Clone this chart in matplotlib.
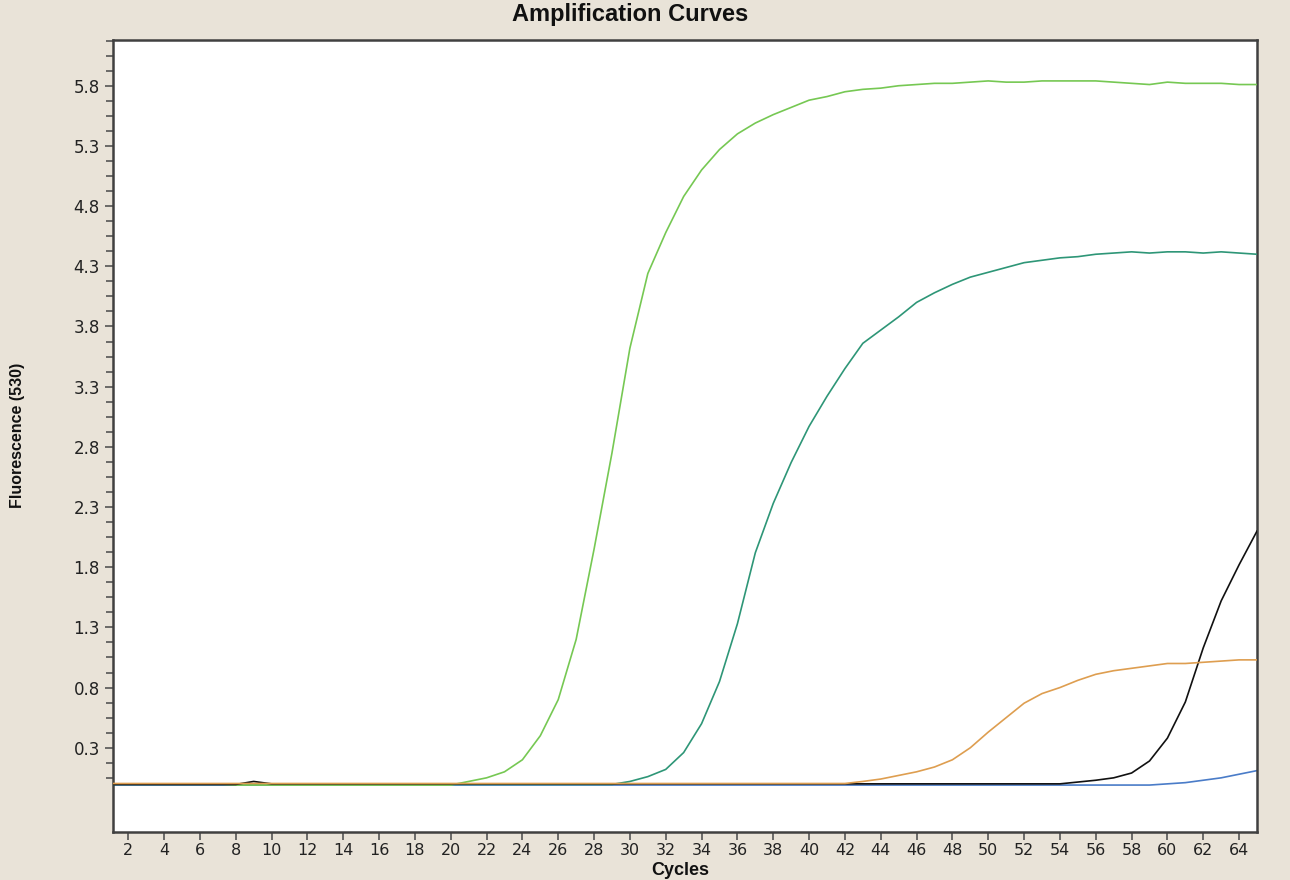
import matplotlib
matplotlib.use("Agg")
import matplotlib.pyplot as plt
from matplotlib.ticker import FixedLocator, FormatStrFormatter
import numpy as np

cycles = list(range(1, 66))

green = [0.0]*7 + [-0.01]*13 + [
    0.02, 0.05, 0.10, 0.20, 0.40, 0.70, 1.20, 1.95, 2.75, 3.62,
    4.24, 4.58, 4.88, 5.10, 5.27, 5.40, 5.49, 5.56, 5.62, 5.68,
    5.71, 5.75, 5.77, 5.78, 5.80, 5.81, 5.82, 5.82, 5.83, 5.84,
    5.83, 5.83, 5.84, 5.84, 5.84, 5.84, 5.83, 5.82, 5.81, 5.83,
    5.82, 5.82, 5.82, 5.81, 5.81]

teal = [-0.005]*29 + [
    0.02, 0.06, 0.12, 0.26, 0.50, 0.85, 1.33, 1.92, 2.33, 2.67,
    2.97, 3.22, 3.45, 3.66, 3.77, 3.88, 4.00, 4.08, 4.15, 4.21,
    4.25, 4.29, 4.33, 4.35, 4.37, 4.38, 4.40, 4.41, 4.42, 4.41,
    4.42, 4.42, 4.41, 4.42, 4.41, 4.40]

orange = [0.003]*42 + [
    0.02, 0.04, 0.07, 0.10, 0.14, 0.20, 0.30, 0.43, 0.55, 0.67,
    0.75, 0.80, 0.86, 0.91, 0.94, 0.96, 0.98, 1.00, 1.00, 1.01,
    1.02, 1.03, 1.03]

black = [-0.005]*8 + [0.02] + [0.0]*45 + [
    0.015, 0.03, 0.05, 0.09, 0.19, 0.38, 0.68, 1.13, 1.52, 1.82, 2.10]

blue = [-0.01]*59 + [0.0, 0.01, 0.03, 0.05, 0.08, 0.11]

y_major = [0.3, 0.8, 1.3, 1.8, 2.3, 2.8, 3.3, 3.8, 4.3, 4.8, 5.3, 5.8]
x_major = list(range(2, 65, 2))

bg = "#E9E3D8"
fig = plt.figure(figsize=(12.9, 8.8), dpi=100, facecolor=bg)
ax = fig.add_axes([113/1290, 1-832/880, (1257-113)/1290, (832-40)/880])
ax.set_facecolor("white")

ax.plot(cycles, blue, color="#4A7CC8", lw=1.2, zorder=2)
ax.plot(cycles, teal, color="#2E9677", lw=1.2, zorder=3)
ax.plot(cycles, green, color="#76C853", lw=1.2, zorder=3)
ax.plot(cycles, black, color="#111111", lw=1.2, zorder=4)
ax.plot(cycles, orange, color="#DE9E50", lw=1.2, zorder=5)

ax.set_xlim(1.15, 65.0)
ax.set_ylim(-0.4, 6.18)

ax.yaxis.set_major_locator(FixedLocator(y_major))
minor = [round(0.05 + 0.125*k, 3) for k in range(50)]
minor = [m for m in minor if m < 6.18 and all(abs(m - M) > 1e-6 for M in y_major)]
ax.yaxis.set_minor_locator(FixedLocator(minor))
ax.yaxis.set_major_formatter(FormatStrFormatter("%.1f"))
ax.xaxis.set_major_locator(FixedLocator(x_major))

ax.tick_params(axis="both", which="major", direction="out", length=6, width=1.2,
               color="#555555", labelsize=12, labelcolor="#222222")
ax.tick_params(axis="y", which="minor", direction="out", length=5, width=1.2, color="#555555")
ax.tick_params(axis="x", pad=2, labelsize=11.5)

for s in ax.spines.values():
    s.set_color("#404040")
    s.set_linewidth(1.8)

fig.text(630/1290, 1-15/880, "Amplification Curves", ha="center", va="center",
         fontsize=17, fontweight="bold", family="Liberation Sans", color="#111111")
fig.text(18/1290, 1-435/880, "Fluorescence (530)", ha="center", va="center",
         rotation=90, fontsize=11.5, fontweight="bold", family="Liberation Sans", color="#111111")
fig.text(680/1290, 1-870/880, "Cycles", ha="center", va="center",
         fontsize=13, fontweight="bold", family="Liberation Sans", color="#111111")

fig.savefig("out.png", dpi=100, facecolor=bg)
